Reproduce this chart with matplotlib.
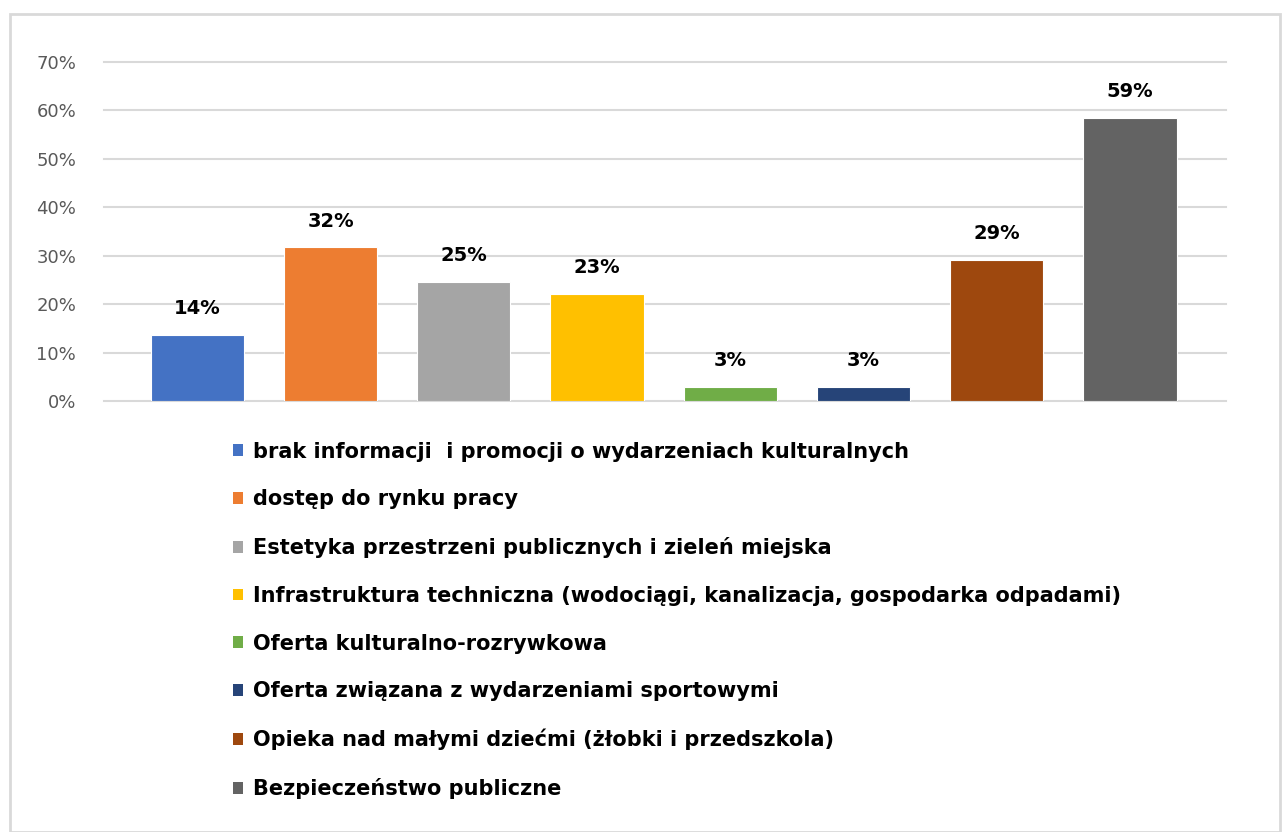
import matplotlib.pyplot as plt
from matplotlib.patches import Rectangle, Patch

# dane
kategorie = [
    "brak informacji  i promocji o wydarzeniach kulturalnych",
    "dostęp do rynku pracy",
    "Estetyka przestrzeni publicznych i zieleń miejska",
    "Infrastruktura techniczna (wodociągi, kanalizacja, gospodarka odpadami)",
    "Oferta kulturalno-rozrywkowa",
    "Oferta związana z wydarzeniami sportowymi",
    "Opieka nad małymi dziećmi (żłobki i przedszkola)",
    "Bezpieczeństwo publiczne",
]
wartosci = [0.137, 0.317, 0.245, 0.221, 0.028, 0.028, 0.291, 0.585]
etykiety = ["14%", "32%", "25%", "23%", "3%", "3%", "29%", "59%"]
kolory = ["#4472C4", "#ED7D31", "#A5A5A5", "#FFC000", "#70AD47", "#264478", "#9E480E", "#636363"]
yticks = [0, 0.1, 0.2, 0.3, 0.4, 0.5, 0.6, 0.7]

fig = plt.figure(figsize=(12.86, 8.32), dpi=100)
ax = fig.add_axes([104/1286, 1-401/832, 1122/1286, 339/832])

x = range(len(wartosci))
ax.bar(x, wartosci, width=0.7, color=kolory, zorder=3, edgecolor="white", linewidth=0.8)
for i, (v, e) in enumerate(zip(wartosci, etykiety)):
    ax.text(i, v + 0.035, e, ha="center", va="bottom", fontsize=14,
            fontweight="bold", color="#000000")

ax.set_xlim(-0.7, 7.72)
ax.set_ylim(0, 0.7)
ax.set_yticks(yticks)
ax.set_yticklabels([f"{int(round(t*100))}%" for t in yticks], fontsize=13, color="#595959")
ax.set_xticks([])
ax.yaxis.grid(True, color="#d9d9d9", linewidth=1.5, zorder=0)
for gl in ax.get_ygridlines():
    gl.set_clip_on(False)
ax.tick_params(axis="y", length=0, pad=20)
for s in ax.spines.values():
    s.set_visible(False)

uchwyty = [Patch(facecolor=c, edgecolor="none") for c in kolory]
fig.legend(uchwyty, kategorie, loc="upper left", bbox_to_anchor=(214/1286, 1-423/832),
           frameon=False, handlelength=0.5, handleheight=0.5, handletextpad=0.45,
           labelspacing=1.33, prop={"size": 15, "weight": "bold"})

fig.patches.append(Rectangle((10/1286, 0), 1270/1286, 1-14/832, transform=fig.transFigure,
                             fill=False, edgecolor="#d9d9d9", linewidth=2))

fig.savefig("out.png", dpi=100)
